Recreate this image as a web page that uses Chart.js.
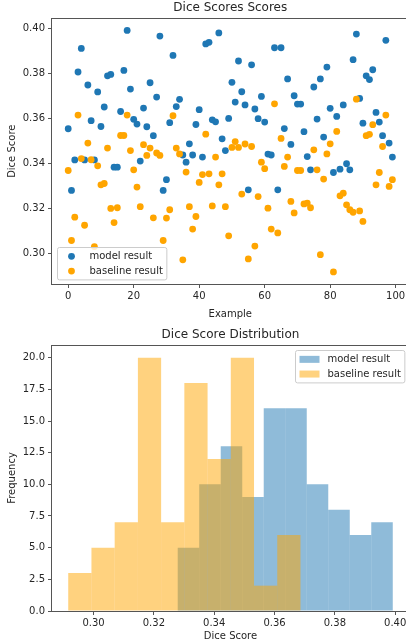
<!DOCTYPE html>
<html><head><meta charset="utf-8">
<script src="https://cdn.jsdelivr.net/npm/chart.js@4"></script>
<style>
html,body{margin:0;padding:0;background:#fff;overflow:hidden;width:406px;height:642px;}
#wrap1{position:absolute;left:0;top:0;width:412px;height:320px;}
#wrap2{position:absolute;left:0;top:320px;width:412px;height:322px;}
canvas{display:block;}
</style></head><body>
<div id="wrap1"><canvas id="c1" width="412" height="320"></canvas></div>
<div id="wrap2"><canvas id="c2" width="412" height="322"></canvas></div>
<script>
// ---- data ----
const modelScores = [
0.3554, 0.3279, 0.3415, 0.3807, 0.3912, 0.3415, 0.3749, 0.3590, 0.3415, 0.3718,
0.3564, 0.3651, 0.3790, 0.3796, 0.3383, 0.3383, 0.3631, 0.3814, 0.3992, 0.3731,
0.3596, 0.3575, 0.3410, 0.3646, 0.3563, 0.3759, 0.3523, 0.3695, 0.3967, 0.3279,
0.3327, 0.3581, 0.3881, 0.3653, 0.3685, 0.3437, 0.3405, 0.3487, 0.3437, 0.3573,
0.3639, 0.3428, 0.3932, 0.3939, 0.3594, 0.3585, 0.3981, 0.3509, 0.3457, 0.3600,
0.3761, 0.3673, 0.3856, 0.3719, 0.3660, 0.3282, 0.3839, 0.3642, 0.3599, 0.3698,
0.3584, 0.3441, 0.3437, 0.3915, 0.3282, 0.3915, 0.3555, 0.3776, 0.3484, 0.3701,
0.3664, 0.3664, 0.3541, 0.3430, 0.3371, 0.3740, 0.3597, 0.3776, 0.3517, 0.3829,
0.3645, 0.3359, 0.3609, 0.3374, 0.3660, 0.3398, 0.3371, 0.3862, 0.3976, 0.3689,
0.3579, 0.3790, 0.3773, 0.3817, 0.3627, 0.3584, 0.3523, 0.3948, 0.3490, 0.3428];

const baselineScores = [
0.3368, 0.3056, 0.3160, 0.3615, 0.3421, 0.3124, 0.3490, 0.3416, 0.3029, 0.3389,
0.3304, 0.3310, 0.3468, 0.3199, 0.3136, 0.3202, 0.3524, 0.3524, 0.3615, 0.3457,
0.3371, 0.3294, 0.3207, 0.3483, 0.3435, 0.3468, 0.3157, 0.3446, 0.3435, 0.3056,
0.3156, 0.3193, 0.3612, 0.3468, 0.3442, 0.2970, 0.3361, 0.3207, 0.3107, 0.3163,
0.3315, 0.3350, 0.3530, 0.3353, 0.3210, 0.3428, 0.3304, 0.3353, 0.3207, 0.3077,
0.3471, 0.3497, 0.3471, 0.3263, 0.3486, 0.2974, 0.3475, 0.3031, 0.3252, 0.3405,
0.3376, 0.3200, 0.3107, 0.3665, 0.3090, 0.3511, 0.3386, 0.3428, 0.3230, 0.3179,
0.3368, 0.3368, 0.3219, 0.3223, 0.3202, 0.3460, 0.3371, 0.2993, 0.3330, 0.3442,
0.3487, 0.2916, 0.3542, 0.3255, 0.3267, 0.3215, 0.3193, 0.3182, 0.3686, 0.3188,
0.3141, 0.3523, 0.3529, 0.3572, 0.3304, 0.3359, 0.3475, 0.3615, 0.3297, 0.3327];

const modelCounts    = [5, 10, 13, 9, 16, 16, 10, 8, 6, 7];
const baselineCounts = [3, 5, 7, 20, 7, 18, 12, 20, 2, 6];

const seriesLabels = ['model result', 'baseline result'];
const scatterXTicks = [0, 20, 40, 60, 80, 100];
const scatterYTicks = [0.30, 0.32, 0.34, 0.36, 0.38, 0.40];
const histXTicks = [0.30, 0.32, 0.34, 0.36, 0.38, 0.40];
const histYTicks = [0, 2.5, 5, 7.5, 10, 12.5, 15, 17.5, 20];

// ---- helpers ----
const examples = modelScores.map((_, i) => i);
function binEdges(vals, n) {
  const lo = Math.min(...vals), hi = Math.max(...vals), w = (hi - lo) / n;
  const e = []; for (let k = 0; k <= n; k++) e.push(lo + k * w); return e;
}
const mEdges = binEdges(modelScores, modelCounts.length);
const bEdges = binEdges(baselineScores, baselineCounts.length);
const centers = e => e.slice(0, -1).map((v, k) => (v + e[k + 1]) / 2);

const FONT = '"DejaVu Sans", sans-serif';
const TXT = '#262626';
const SPINE = '#555';
const BLUE = '#1f77b4', ORANGE = '#ffa500';
const BLUE_A = 'rgba(31,119,180,0.5)', ORANGE_A = 'rgba(255,165,0,0.5)';

const frame = {
  id: 'frame',
  afterDatasetsDraw(chart) {
    const {ctx, chartArea: a} = chart;
    ctx.save();
    ctx.strokeStyle = SPINE; ctx.lineWidth = 1;
    const l = Math.round(a.left) - 0.5, t = Math.round(a.top) + 0.5;
    const r = Math.round(a.right) + 0.5, b = Math.round(a.bottom) + 0.5;
    ctx.strokeRect(l, t, r - l, b - t);
    ctx.restore();
  }
};

const boxLegend = {
  id: 'boxLegend',
  afterDatasetsDraw(chart, args, opts) {
    const {ctx, chartArea: a} = chart;
    const fs = 10, pad = 0.4 * fs, hl = 2 * fs, htp = 0.8 * fs, ls = 0.5 * fs, gap = 0.5 * fs, h = 0.97 * fs;
    const ds = chart.data.datasets;
    ctx.save();
    ctx.font = fs + 'px ' + FONT;
    const tw = Math.max(...ds.map(d => ctx.measureText(d.label).width));
    const bw = pad + hl + htp + tw + pad;
    const bh = 2 * pad + ds.length * h + (ds.length - 1) * ls;
    let x, y;
    if (opts.loc === 'lowerLeft') { x = a.left + gap; y = a.bottom - gap - bh; }
    else { x = a.right - gap - bw; y = a.top + gap; }
    x = Math.round(x) + 0.5; y = Math.round(y) + 0.5;
    ctx.beginPath();
    ctx.roundRect(x, y, bw, bh, 2);
    ctx.fillStyle = 'rgba(255,255,255,0.8)'; ctx.fill();
    ctx.strokeStyle = '#cccccc'; ctx.lineWidth = 1; ctx.stroke();
    ds.forEach((d, i) => {
      const cy = y + pad + h / 2 + i * (h + ls);
      ctx.fillStyle = d.backgroundColor;
      if (opts.handle === 'circle') {
        ctx.beginPath(); ctx.arc(x + pad + hl / 2, cy, 3.4, 0, Math.PI * 2); ctx.fill();
      } else {
        ctx.fillRect(x + pad, cy - 3.5, hl, 7);
      }
      ctx.fillStyle = TXT; ctx.textBaseline = 'middle'; ctx.textAlign = 'left';
      ctx.fillText(d.label, x + pad + hl + htp, cy + 0.5);
    });
    ctx.restore();
  }
};

function tickCfg(fmt, pad) {
  return {color: TXT, font: {family: FONT, size: 10}, padding: pad, autoSkip: false, maxRotation: 0, callback: fmt};
}
const gridCfg = {display: true, drawOnChartArea: false, drawTicks: true, tickLength: 4, color: SPINE, lineWidth: 1, offset: false};
const setTicks = list => s => { s.ticks = list.map(v => ({value: v})); };

// ---- scatter ----
const allScores = modelScores.concat(baselineScores);
const yLo = Math.min(...allScores), yHi = Math.max(...allScores), yPad = (yHi - yLo) * 0.05;
const xLo = Math.min(...examples), xHi = Math.max(...examples), xPad = (xHi - xLo) * 0.05;

new Chart(document.getElementById('c1'), {
  type: 'scatter',
  data: {datasets: [
    {label: seriesLabels[0], data: examples.map((e, i) => ({x: e, y: modelScores[i]})),
     backgroundColor: BLUE, borderWidth: 0, pointRadius: 3.4, pointHoverRadius: 3.4, order: 1},
    {label: seriesLabels[1], data: examples.map((e, i) => ({x: e, y: baselineScores[i]})),
     backgroundColor: ORANGE, borderWidth: 0, pointRadius: 3.4, pointHoverRadius: 3.4, order: 0}
  ]},
  options: {
    responsive: false, animation: false, devicePixelRatio: 1,
    layout: {padding: {left: 0, right: 3, top: 0, bottom: 0}},
    plugins: {
      legend: {display: false}, tooltip: {enabled: false},
      title: {display: true, text: 'Dice Scores Scores', fullSize: false, color: TXT,
              font: {family: FONT, size: 12, weight: 'normal'}, padding: {top: 1, bottom: 3}},
      boxLegend: {loc: 'lowerLeft', handle: 'circle'}
    },
    scales: {
      x: {type: 'linear', min: xLo - xPad, max: xHi + xPad,
          afterBuildTicks: setTicks(scatterXTicks), afterFit: s => { s.height = 36; },
          ticks: tickCfg(v => String(Math.round(v)), 2), grid: gridCfg, border: {display: false},
          title: {display: true, text: 'Example', color: TXT, font: {family: FONT, size: 10}, padding: {top: 6, bottom: 0}}},
      y: {type: 'linear', min: yLo - yPad, max: yHi + yPad,
          afterBuildTicks: setTicks(scatterYTicks), afterFit: s => { s.width = 52; },
          ticks: tickCfg(v => v.toFixed(2), 3), grid: gridCfg, border: {display: false},
          title: {display: true, text: 'Dice Score', color: TXT, font: {family: FONT, size: 10}, padding: {top: 6, bottom: 0}}}
    }
  },
  plugins: [frame, boxLegend]
});

// ---- histogram ----
const allEdges = mEdges.concat(bEdges);
const hLo = Math.min(...allEdges), hHi = Math.max(...allEdges), hPad = (hHi - hLo) * 0.05;
const cMax = Math.max(...modelCounts, ...baselineCounts);
const barOpts = {grouped: false, barPercentage: 1, categoryPercentage: 1, borderWidth: 0, inflateAmount: 0};
const xHist = {type: 'linear', min: hLo - hPad, max: hHi + hPad, offset: false,
               afterBuildTicks: setTicks(histXTicks)};

new Chart(document.getElementById('c2'), {
  type: 'bar',
  data: {datasets: [
    Object.assign({label: seriesLabels[0], data: centers(mEdges).map((c, i) => ({x: c, y: modelCounts[i]})),
      backgroundColor: BLUE_A, xAxisID: 'x', order: 1}, barOpts),
    Object.assign({label: seriesLabels[1], data: centers(bEdges).map((c, i) => ({x: c, y: baselineCounts[i]})),
      backgroundColor: ORANGE_A, xAxisID: 'x2', order: 0}, barOpts)
  ]},
  options: {
    responsive: false, animation: false, devicePixelRatio: 1,
    layout: {padding: {left: 0, right: 3, top: 0, bottom: 0}},
    plugins: {
      legend: {display: false}, tooltip: {enabled: false},
      title: {display: true, text: 'Dice Score Distribution', fullSize: false, color: TXT,
              font: {family: FONT, size: 12, weight: 'normal'}, padding: {top: 8, bottom: 2.6}},
      boxLegend: {loc: 'upperRight', handle: 'rect'}
    },
    scales: {
      x: Object.assign({}, xHist, {
          afterFit: s => { s.height = 31; },
          ticks: tickCfg(v => v.toFixed(2), 2), grid: gridCfg, border: {display: false},
          title: {display: true, text: 'Dice Score', color: TXT, font: {family: FONT, size: 10}, padding: {top: 0, bottom: 0}}}),
      x2: Object.assign({}, xHist, {display: false, axis: 'x', grid: {offset: false}}),
      y: {type: 'linear', min: 0, max: cMax * 1.05, beginAtZero: true,
          afterBuildTicks: setTicks(histYTicks), afterFit: s => { s.width = 52; },
          ticks: tickCfg(v => v.toFixed(1), 3), grid: gridCfg, border: {display: false},
          title: {display: true, text: 'Frequency', color: TXT, font: {family: FONT, size: 10}, padding: {top: 6, bottom: 0}}}
    }
  },
  plugins: [frame, boxLegend]
});
</script>
</body></html>
